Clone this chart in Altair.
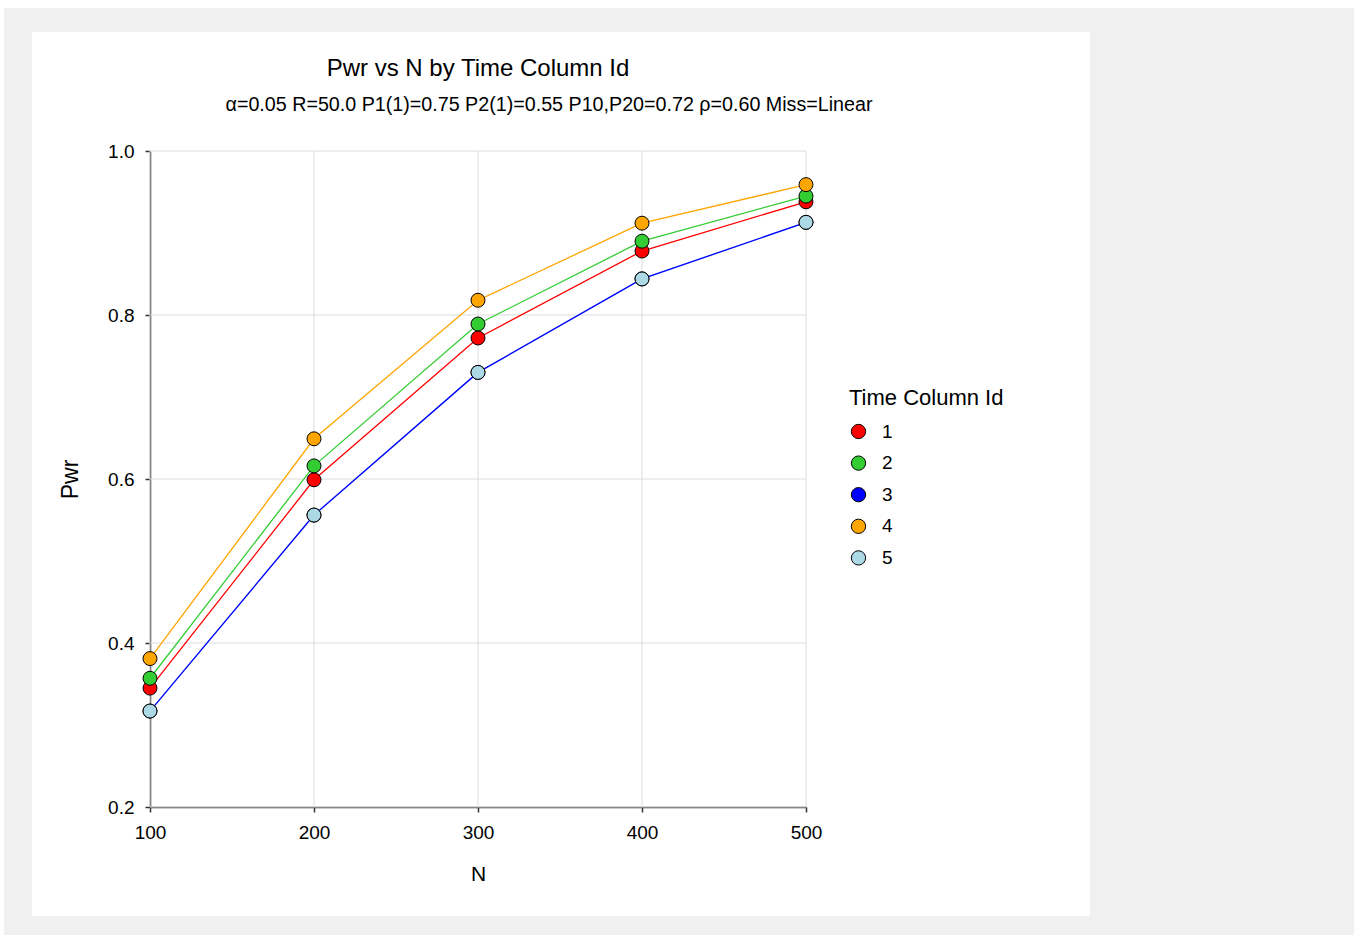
import altair as alt
import pandas as pd

n_values = [100, 200, 300, 400, 500]
y_ticks = [0.2, 0.4, 0.6, 0.8, 1.0]
series_ids = ["1", "2", "3", "4", "5"]
pwr_1 = [0.345, 0.599, 0.772, 0.878, 0.938]
pwr_2 = [0.357, 0.616, 0.789, 0.890, 0.945]
pwr_3 = [0.317, 0.556, 0.730, 0.844, 0.913]
pwr_4 = [0.381, 0.649, 0.818, 0.912, 0.959]
pwr_5 = [0.317, 0.556, 0.730, 0.844, 0.913]
colors = ["#ff0000", "#33cc33", "#0000ff", "#ffa500", "#add8e6"]
title_text = "Pwr vs N by Time Column Id"
subtitle_text = "α=0.05 R=50.0 P1(1)=0.75 P2(1)=0.55 P10,P20=0.72 ρ=0.60 Miss=Linear"

rows = []
for sid, vals in zip(series_ids, [pwr_1, pwr_2, pwr_3, pwr_4, pwr_5]):
    for n, v in zip(n_values, vals):
        rows.append({"N": n, "Pwr": v, "Time Column Id": sid})
df = pd.DataFrame(rows)

FONT = "Liberation Sans"
W, H = 656, 656
PL, PT = 150, 151
PR, PB = 1354 - PL - W, 935 - PT - H
GRAY = "#f0f0f0"

color_scale = alt.Scale(domain=series_ids, range=colors)
x_scale = alt.Scale(domain=[100, 500], nice=False)
y_scale = alt.Scale(domain=[0.2, 1.0], nice=False, zero=False)
x_axis = alt.Axis(values=n_values, title="N", grid=False, labelFlush=False)
y_axis = alt.Axis(values=y_ticks, format=".1f", title="Pwr", grid=False, labelFlush=False)
x_enc = alt.X("N:Q", scale=x_scale, axis=x_axis)
y_enc = alt.Y("Pwr:Q", scale=y_scale, axis=y_axis)

one = pd.DataFrame({"a": [0]})


def frame_rect(x0, x1, y0, y1):
    return alt.Chart(one).mark_rect(color=GRAY).encode(
        x=alt.value(x0 - PL), x2=alt.value(x1 - PL),
        y=alt.value(y0 - PT), y2=alt.value(y1 - PT))


frames = [
    frame_rect(4, 1354, 8, 32),
    frame_rect(4, 32, 8, 935),
    frame_rect(1090, 1354, 8, 935),
    frame_rect(4, 1354, 916, 935),
]

vgrid = alt.Chart(pd.DataFrame({"N": n_values})).mark_rule(
    color="#dcdcdc", strokeWidth=1).encode(x=x_enc)
hgrid = alt.Chart(pd.DataFrame({"Pwr": y_ticks})).mark_rule(
    color="#dcdcdc", strokeWidth=1).encode(y=y_enc)

# draw series 3 (blue) last so it shows over the identical series 5 line
line_order = ["1", "2", "4", "5", "3"]
lines = [
    alt.Chart(df).transform_filter(alt.datum["Time Column Id"] == sid)
    .mark_line(strokeWidth=1.3, color=colors[series_ids.index(sid)])
    .encode(x=x_enc, y=y_enc)
    for sid in line_order
]

points = alt.Chart(df).mark_point(filled=True, size=195, stroke="black",
                                  strokeWidth=1, opacity=1, shape="circle").encode(
    x=x_enc, y=y_enc,
    color=alt.Color("Time Column Id:N", scale=color_scale,
                    legend=alt.Legend(title="Time Column Id", orient="none",
                                      legendX=699, legendY=237,
                                      symbolType="circle", symbolSize=205,
                                      symbolStrokeColor="black", symbolStrokeWidth=1,
                                      symbolOpacity=1,
                                      titleFontSize=22, labelFontSize=19,
                                      titleFont=FONT, labelFont=FONT,
                                      titleFontWeight="normal", titleColor="black",
                                      labelColor="black", rowPadding=11.6,
                                      labelOffset=14, titlePadding=12)),
)

title_mark = alt.Chart(pd.DataFrame({"t": [title_text]})).mark_text(
    font=FONT, fontSize=24, color="black", align="center", baseline="middle").encode(
    text="t:N", x=alt.value(W / 2), y=alt.value(69 - PT))
subtitle_mark = alt.Chart(pd.DataFrame({"t": [subtitle_text]})).mark_text(
    font=FONT, fontSize=19.7, color="black", align="center", baseline="middle").encode(
    text="t:N", x=alt.value(549 - PL), y=alt.value(105 - PT))

chart = alt.layer(*frames, vgrid, hgrid, *lines, points,
                  title_mark, subtitle_mark).properties(
    width=W, height=H,
    autosize=alt.AutoSizeParams(type="none"),
    padding={"left": PL, "top": PT, "right": PR, "bottom": PB},
    background="white",
).configure_view(stroke=None).configure_axis(
    labelFont=FONT, titleFont=FONT, labelFontSize=19,
    labelColor="black", titleColor="black", titleFontWeight="normal",
    domainColor="#333333", tickColor="#333333",
    tickSize=5, domainWidth=1.5, tickWidth=1.5,
).configure_axisX(labelPadding=11, titlePadding=21, titleFontSize=21).configure_axisY(
    labelPadding=11, titlePadding=25, titleFontSize=23)

chart.save("out.html", embed_options={"renderer": "svg", "actions": False})
